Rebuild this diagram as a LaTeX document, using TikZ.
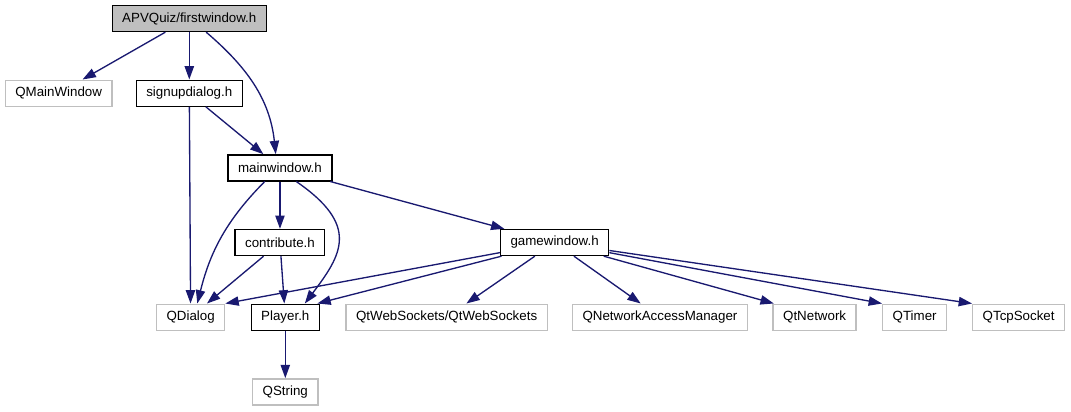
\documentclass[tikz,border=0pt]{standalone}
\usepackage{fontspec}
\setmainfont{Liberation Sans}
\usetikzlibrary{arrows.meta, positioning}
\definecolor{edgeblue}{RGB}{25,25,112}
\definecolor{extgray}{RGB}{191,191,191}

\begin{document}
\begin{tikzpicture}[x=0.75pt, y=-0.75pt, node distance=56pt, >={Triangle[length=10pt, width=7pt]},
    box/.style={rectangle, draw, line width=1pt, minimum height=19.5pt, inner xsep=7.5pt, font=\fontsize{10}{12}\selectfont},
    ext/.style={box, draw=extgray},
    dep/.style={draw=edgeblue, line width=1pt, ->}]
  \useasboundingbox (0,0) rectangle (1071,411);
  \node[box, fill=extgray] (first) at (189.3,18.5) {APVQuiz/firstwindow.h};
  \node[ext, below of=first, xshift=-98pt] (qmain) {QMainWindow};
  \node[box, below of=first] (signup) {signupdialog.h};
  \node[box, below of=signup, xshift=68pt] (mainw) {mainwindow.h};
  \node[box, below of=mainw] (contrib) {contribute.h};
  \node[box, below of=mainw, xshift=206pt] (gamew) {gamewindow.h};
  \node[box, below of=contrib, xshift=4pt] (player) {Player.h};
  \node[ext, below of=contrib, xshift=-67pt] (qdialog) {QDialog};
  \node[ext, below of=player] (qstring) {QString};
  \node[ext, below of=gamew, xshift=-81pt] (qtws) {QtWebSockets/QtWebSockets};
  \node[ext, below of=gamew, xshift=79pt] (qnam) {QNetworkAccessManager};
  \node[ext, below of=gamew, xshift=195pt] (qtnet) {QtNetwork};
  \node[ext, below of=gamew, xshift=270pt] (qtimer) {QTimer};
  \node[ext, below of=gamew, xshift=348pt] (qtcp) {QTcpSocket};
  \draw[dep] (first) -- (qmain);
  \draw[dep] (first) -- (signup);
  \draw[dep] (first.-39) .. controls +(41,35) and +(-6,-55) .. (mainw.107);
  \draw[dep] (signup) -- (mainw);
  \draw[dep] (signup) -- (qdialog);
  \draw[dep] (mainw.-138) .. controls +(-41,41) and +(12,-48) .. (qdialog.64);
  \draw[dep] (mainw) -- (contrib);
  \draw[dep] (mainw.-40) .. controls +(64,44) and +(37,-49) .. (player.35);
  \draw[dep] (mainw) -- (gamew);
  \draw[dep] (contrib) -- (qdialog);
  \draw[dep] (contrib) -- (player);
  \draw[dep] (gamew) -- (qdialog.north east);
  \draw[dep] (gamew) -- ([xshift=-2pt]player.north east);
  \draw[dep] (gamew) -- (qtws);
  \draw[dep] (gamew) -- (qnam);
  \draw[dep] (gamew) -- ([xshift=1pt]qtnet.north west);
  \draw[dep] (gamew) -- (qtimer.north west);
  \draw[dep] (gamew) -- (qtcp.north west);
  \draw[dep] (player) -- (qstring);
\end{tikzpicture}
\end{document}
